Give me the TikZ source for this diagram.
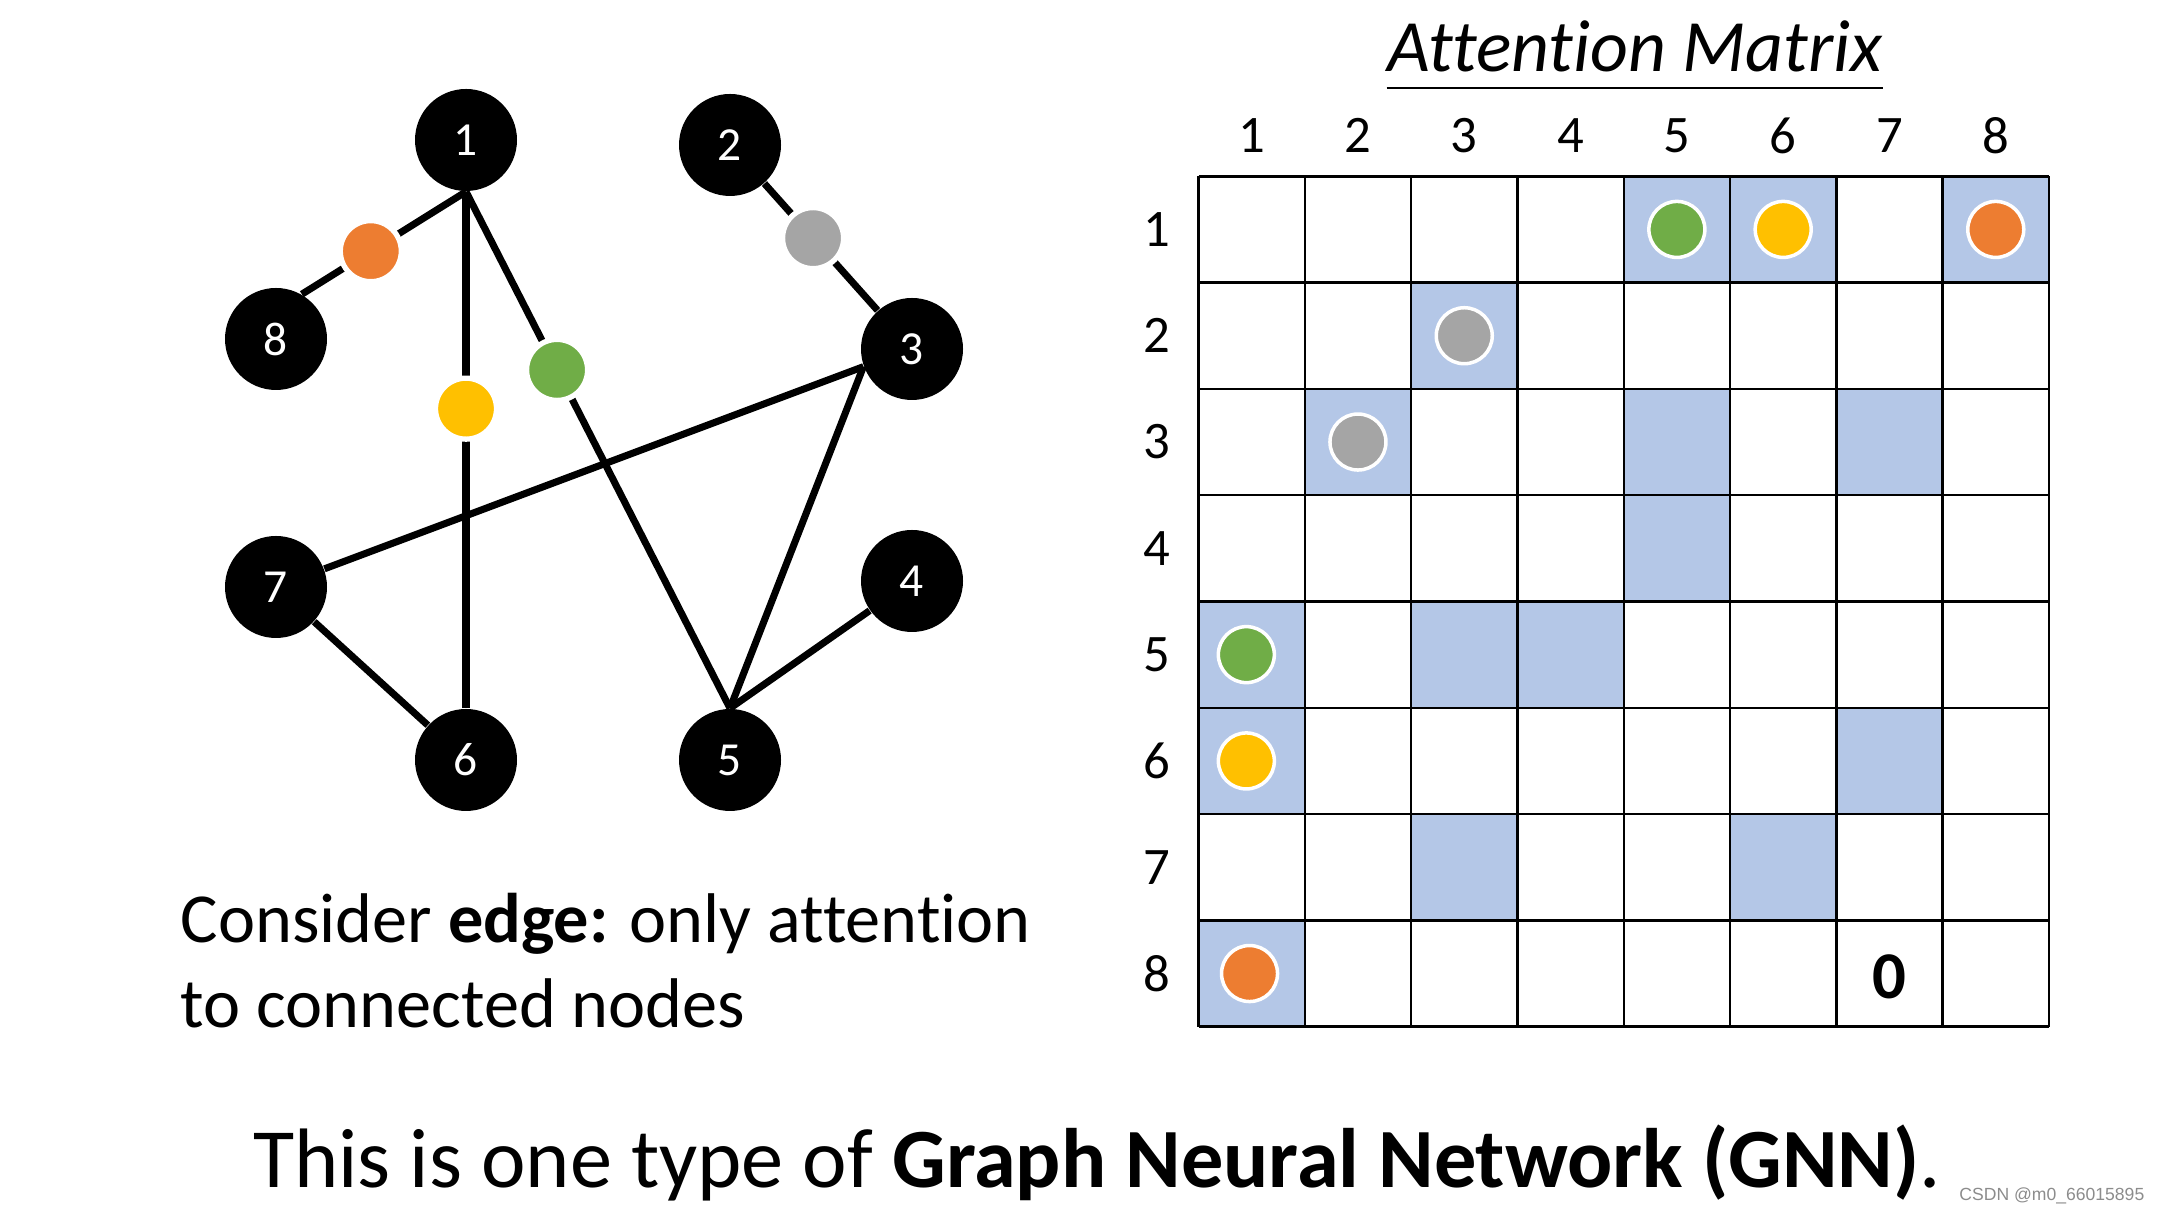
\documentclass[tikz,border=0pt]{standalone}
\usepackage{fontspec}
\setmainfont{Carlito}[Ligatures=NoCommon]
\newfontfamily\wmfont{Liberation Sans}
\usepackage{tikz}
\definecolor{GNNOrange}{HTML}{ED7D31}
\definecolor{GNNYellow}{HTML}{FFC000}
\definecolor{GNNGreen}{HTML}{70AD47}
\definecolor{GNNGray}{HTML}{A5A5A5}
\definecolor{GNNBlue}{HTML}{B4C7E7}

\begin{document}
\begin{tikzpicture}[x=1cm,y=1cm,
  vtx/.style={circle,fill=black,text=white,minimum size=1.02cm,inner sep=0pt,font=\fontsize{13.5}{16}\selectfont},
  edge/.style={line width=2pt},
  dot/.style={circle,fill=#1,draw=white,line width=1.5pt,minimum size=0.61cm,inner sep=0pt},
  mdot/.style={circle,fill=#1,draw=white,line width=1pt,minimum size=0.56cm,inner sep=0pt},
  idx/.style={inner sep=0pt,font=\fontsize{15}{18}\selectfont}]
\path[use as bounding box] (0,0) rectangle (21.60,12.13);
\fill[white] (0,0) rectangle (21.60,12.13);
% graph
\node[vtx] (n1) at (4.66,10.73) {1};
\node[vtx] (n2) at (7.30,10.68) {2};
\node[vtx] (n3) at (9.12,8.64) {3};
\node[vtx] (n4) at (9.12,6.32) {4};
\node[vtx] (n5) at (7.30,4.53) {5};
\node[vtx] (n6) at (4.66,4.53) {6};
\node[vtx] (n7) at (2.76,6.26) {7};
\node[vtx] (n8) at (2.76,8.74) {8};
\draw[edge] (n1.south) -- node[dot=GNNOrange,pos=0.58] (e18) {} (n8.60);
\draw[edge] (n1.south) -- node[dot=GNNYellow,pos=0.42] (e16) {} (n6.north);
\draw[edge] (n1.south) -- node[dot=GNNGreen,pos=0.345] (e15) {} (n5.north);
\draw[edge] (n2) -- node[dot=GNNGray,pos=0.43] (e23) {} (n3);
\draw[edge] (n3.200) -- (n7);
\draw[edge] (n3.200) -- (n5.north);
\draw[edge] (n4) -- (n5.north);
\draw[edge] (n7) -- (n6);
% attention matrix
\node[anchor=base,inner sep=0pt,font=\itshape\fontsize{21}{25}\selectfont] (title) at (16.35,11.41) {Attention Matrix};
\draw[line width=0.8pt] ([yshift=-0.16cm]title.base west) -- ([yshift=-0.16cm]title.base east);
\begin{scope}[shift={(11.985,1.863)},x=1.063cm,y=1.063cm]
\foreach \r/\c in {1/5,1/6,1/8,2/3,3/2,3/5,3/7,4/5,5/1,5/3,5/4,6/1,6/7,7/3,7/6,8/1}
  \fill[GNNBlue] (\c-1,8-\r) rectangle (\c,9-\r);
\foreach \k in {0,...,8} {
  \draw[line width=0.7pt] (\k,0) -- (\k,8);
  \draw[line width=0.7pt] (0,\k) -- (8,\k);
}
\foreach \i in {1,...,8} {
  \node[idx] (col\i) at (\i-0.5,8.38) {\i};
  \node[idx] (row\i) at (-0.39,8.5-\i) {\i};
}
\node[mdot=GNNGreen] (m15) at (4.5,7.5) {};
\node[mdot=GNNYellow] (m16) at (5.5,7.5) {};
\node[mdot=GNNOrange] (m18) at (7.5,7.5) {};
\node[mdot=GNNGray] (m23) at (2.5,6.5) {};
\node[mdot=GNNGray] (m32) at (1.5,5.5) {};
\node[mdot=GNNGreen] (m51) at (0.45,3.5) {};
\node[mdot=GNNYellow] (m61) at (0.45,2.5) {};
\node[mdot=GNNOrange] (m81) at (0.48,0.5) {};
\node[inner sep=0pt,font=\bfseries\fontsize{19}{22}\selectfont] (zero) at (6.5,0.47) {0};
\end{scope}
% texts
\node[anchor=base west,align=left,inner sep=0pt,font=\fontsize{20}{24.2}\selectfont] (note) at (1.80,1.85) {Consider \textbf{edge:} only attention\\to connected nodes};
\node[anchor=base,inner sep=0pt,font=\fontsize{24}{28}\selectfont] (caption) at (10.97,0.25) {This is one type of \textbf{Graph Neural Network (GNN)}.};
\node[anchor=east,inner sep=0pt,text=black!45,font=\wmfont\fontsize{5}{6}\selectfont] (mark) at (21.45,0.17) {CSDN @m0\_66015895};
\end{tikzpicture}
\end{document}
